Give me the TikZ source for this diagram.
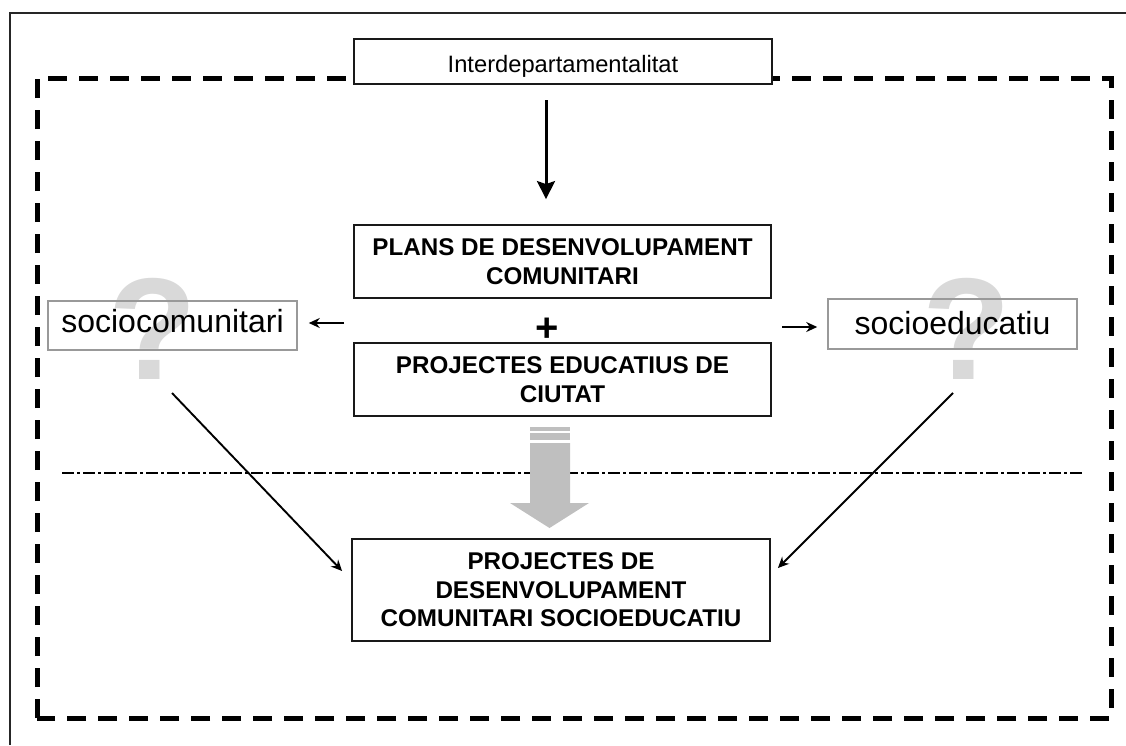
\documentclass[tikz,border=0pt]{standalone}
\usepackage{fontspec}
\setmainfont{Liberation Sans}
\usetikzlibrary{arrows.meta,calc}
\begin{document}
\begin{tikzpicture}[x=1pt,y=-1pt,
  blackbox/.style={draw=black!90,line width=1.8pt,fill=white,inner sep=0pt,align=center,
    font=\fontsize{24.2}{28.5}\selectfont\bfseries},
  graybox/.style={draw=black!40,line width=1.5pt,inner sep=0pt,
    font=\fontsize{32}{36}\selectfont},
  qmark/.style={text=gray!30,inner sep=0pt,font=\fontsize{145}{145}\selectfont\bfseries},
  thinarrow/.style={line width=1.9pt,-{Stealth[length=11pt,width=10pt]}},
  bigarrow/.style={line width=3pt,-{Stealth[length=18pt,width=18pt,inset=3pt]}},
  dashframe/.style={line width=5pt,dash pattern=on 19pt off 12pt},
  dashdotline/.style={line width=2.4pt,dash pattern=on 12pt off 3pt on 3pt off 3pt}
]
\useasboundingbox (0,0) rectangle (1126,745);
% outer frame
\draw[line width=1.8pt,black!85] (10,745) -- (10,13) -- (1126,13);
% dashed region
\draw[dashframe] (37,718) -- (37,78) -- (1111,78) -- (1111,718) -- cycle;
% dash-dot separator
\draw[dashdotline] (62,473) -- (1082,473);
% question marks
\node[qmark] (q1) at (153,329) {?};
\node[qmark] (q2) at (967,329) {?};
% boxes
\node[blackbox,minimum width=418pt,minimum height=45pt,font=\fontsize{23.7}{28}\selectfont,
  text height=25pt,text depth=4pt] (interd) at (563,61.5) {Interdepartamentalitat};
\node[blackbox,minimum width=417pt,minimum height=73pt] (plans) at (562.5,261.5)
  {PLANS DE DESENVOLUPAMENT\\COMUNITARI};
\node[font=\fontsize{40}{40}\selectfont\bfseries,inner sep=0pt] (plus) at (547,330) {+};
\node[blackbox,minimum width=417pt,minimum height=73pt] (proj) at (562.5,379.5)
  {PROJECTES EDUCATIUS DE\\CIUTAT};
\node[blackbox,minimum width=418pt,minimum height=102pt] (final) at (561,590)
  {PROJECTES DE\\DESENVOLUPAMENT\\COMUNITARI SOCIOEDUCATIU};
\node[graybox,minimum width=249pt,minimum height=49pt,text height=23pt,text depth=10pt]
  (socio) at (172.5,325.5) {sociocomunitari};
\node[graybox,minimum width=249pt,minimum height=50pt,text height=23pt,text depth=2pt]
  (soced) at (952.5,324) {socioeducatiu};
% big gray arrow
\fill[black!25] (530,427) rectangle (570,431);
\fill[black!25] (530,433) rectangle (570,440);
\fill[black!25] (530,443) -- (570,443) -- (570,503) -- (589,503) -- (549.5,528)
  -- (510,503) -- (530,503) -- cycle;
% connectors
\coordinate (a1) at (546,100);
\draw[bigarrow,shorten >=25pt] (a1) -- (a1 |- plans.north);
\coordinate (ls) at (344,323);
\draw[thinarrow,shorten >=11pt] (ls) -- (ls -| socio.east);
\coordinate (rs) at (782,327);
\draw[thinarrow,shorten >=10pt] (rs) -- (rs -| soced.west);
\coordinate (ld) at (172,393);
\coordinate (rd) at (953,393);
\draw[thinarrow] (ld) -- ($(final.west)+(-9,-19)$);
\draw[thinarrow] (rd) -- ($(final.east)+(7,-22)$);
\end{tikzpicture}
\end{document}
